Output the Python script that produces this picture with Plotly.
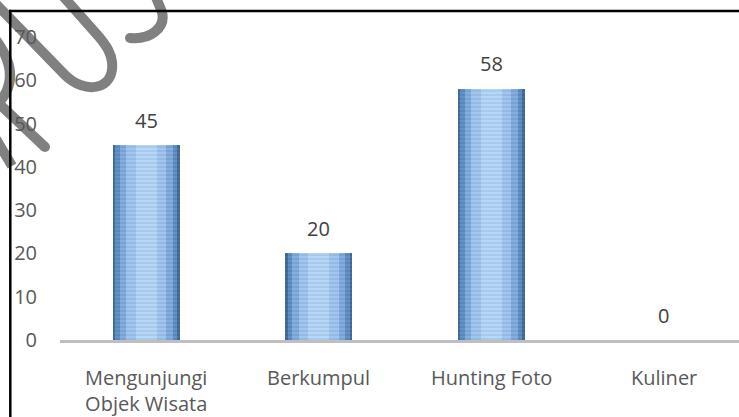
import plotly.graph_objects as go

# ---- data ----
categories = ["Mengunjungi\nObjek Wisata", "Berkumpul", "Hunting Foto", "Kuliner"]
values = [45, 20, 58, 0]
y_ticks = [0, 10, 20, 30, 40, 50, 60, 70]

# ---- geometry (pixels) ----
W, H = 739, 417
ML, MR, MT, MB = 60, 0, 37, 77
PW, PH = W - ML - MR, H - MT - MB
CAT_PX = 172.5  # distance between category centres

FONT = "Open Sans"
TICK_COLOR = "#595959"
LABEL_COLOR = "#404040"


def px(x):
    return (x - ML) / PW


def py(y):
    return 1 - (y - MT) / PH


fig = go.Figure()

# Bars: layered from the outer (dark) edge to the lighter centre, striped.
layers = [
    (0.388, "#47709f", "#395d87"),
    (0.36, "#6391c6", "#4f7cb1"),
    (0.31, "#84aedd", "#6a96c9"),
    (0.23, "#a2c6ee", "#84acda"),
    (0.12, "#b8d6f5", "#95bbe4"),
]
for w, bg, fg in layers:
    fig.add_trace(go.Bar(
        x=list(range(len(categories))), y=values, width=w,
        marker=dict(color=bg, line=dict(width=0),
                    pattern=dict(shape="-", fgcolor=fg, bgcolor=bg,
                                 size=4, solidity=0.5)),
        hoverinfo="skip", showlegend=False,
    ))

annotations = []
# value labels above each bar
for i, v in enumerate(values):
    annotations.append(dict(
        x=i, y=v, xref="x", yref="y", text=str(v), showarrow=False,
        yanchor="middle", yshift=25,
        font=dict(family=FONT, size=20, color=LABEL_COLOR),
    ))
# category labels under the axis
for i, c in enumerate(categories):
    annotations.append(dict(
        x=i, y=0, xref="x", yref="y", text=c.replace("\n", "<br>"),
        showarrow=False, yanchor="top", yshift=-22, align="center",
        font=dict(family=FONT, size=20, color=TICK_COLOR),
    ))

shapes = []
# decorative grey strokes in the upper-left corner
GREY = "#808080"
strokes = [
    [(-5, 3), "L", (65, 75), "C", (85, 95), (115, 90), (112, 62), "C", (111, 52), (106, 46), (100, 38), "L", (62, -5)],
    [(130, 38), "C", (150, 40), (166, 28), (162, 12), "L", (155, -5)],
    [(-4, 40), "Q", (24, 78), (-4, 106)],
    [(-6, 99), "L", (45, 147)],
    [(-4, 139), "L", (12, 166)],
]
for s in strokes:
    parts = ["M {},{}".format(px(s[0][0]), py(s[0][1]))]
    for item in s[1:]:
        if isinstance(item, str):
            parts.append(item)
        else:
            parts.append("{},{}".format(px(item[0]), py(item[1])))
    shapes.append(dict(type="path", path=" ".join(parts), xref="paper", yref="paper",
                       line=dict(color=GREY, width=10), layer="below"))
# rounded ends of the visible stroke tips
for cx, cy in [(45, 147), (130, 38)]:
    r = 5
    shapes.append(dict(type="circle", xref="paper", yref="paper",
                       x0=px(cx - r), x1=px(cx + r), y0=py(cy + r), y1=py(cy - r),
                       fillcolor=GREY, line=dict(width=0), layer="below"))

# frame lines on the left and top
shapes.append(dict(type="line", xref="paper", yref="paper",
                   x0=px(10.3), x1=px(10.3), y0=py(9.8), y1=py(H + 2),
                   line=dict(color="black", width=2.5), layer="above"))
shapes.append(dict(type="line", xref="paper", yref="paper",
                   x0=px(9), x1=px(W + 2), y0=py(11), y1=py(11),
                   line=dict(color="black", width=2.5), layer="above"))

span = PW / CAT_PX
fig.update_layout(
    width=W, height=H,
    margin=dict(l=ML, r=MR, t=MT, b=MB, pad=0),
    paper_bgcolor="white", plot_bgcolor="rgba(0,0,0,0)",
    barmode="overlay", bargap=0,
    showlegend=False,
    font=dict(family=FONT, size=20, color=TICK_COLOR),
    xaxis=dict(range=[-0.5, -0.5 + span], showticklabels=False,
               showgrid=False, zeroline=False,
               showline=True, linecolor="#bfbfbf", linewidth=3),
    yaxis=dict(range=[0, 70], tickvals=y_ticks, ticktext=[str(t) for t in y_ticks],
               showgrid=False, zeroline=False, showline=False,
               ticks="", ticklabelstandoff=22,
               tickfont=dict(family=FONT, size=20, color=TICK_COLOR)),
    annotations=annotations,
    shapes=shapes,
)

fig.write_html("out.html")
